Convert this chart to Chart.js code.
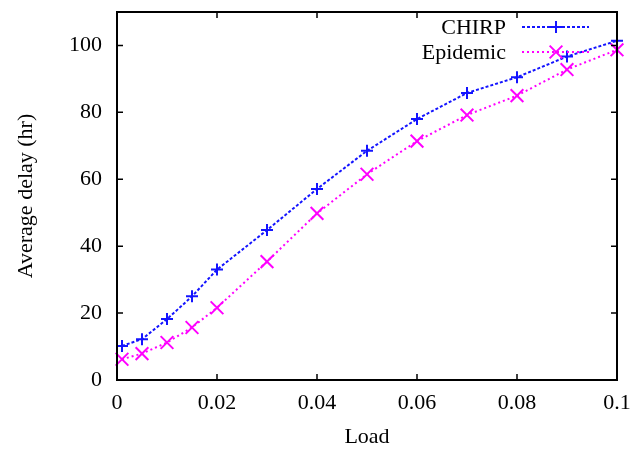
<!DOCTYPE html>
<html>
<head>
<meta charset="utf-8">
<script src="https://cdn.jsdelivr.net/npm/chart.js@4"></script>
<style>
  html, body { margin: 0; padding: 0; background: #fff; }
</style>
</head>
<body>
<canvas id="delay-chart" width="634" height="451"></canvas>
<script>
const LOAD = [0.001, 0.005, 0.01, 0.015, 0.02, 0.03, 0.04, 0.05, 0.06, 0.07, 0.08, 0.09, 0.1];
const CHIRP_DELAY = [10.2, 12.2, 18.2, 25, 33, 44.8, 57.1, 68.5, 78, 85.8, 90.5, 96.7, 101.4];
const EPIDEMIC_DELAY = [6.2, 7.9, 11.2, 15.7, 21.6, 35.4, 49.8, 61.5, 71.4, 79.2, 85, 92.8, 98.7];
const X_TICKS = [0, 0.02, 0.04, 0.06, 0.08, 0.1];
const Y_TICKS = [0, 20, 40, 60, 80, 100];

const FONT = "'Liberation Serif', 'Times New Roman', serif";
const BLUE = "#1414ff";
const MAGENTA = "#ff00ff";

const toPoints = (ys) => LOAD.map((x, i) => ({ x, y: ys[i] }));

// keep the plot box where the reference has it, whatever the label overhang
function noScalePadding(s) {
  s.paddingTop = 0;
  s.paddingBottom = 0;
  s.paddingLeft = 0;
  s.paddingRight = 0;
}

// gnuplot-style frame: full box with inward ticks on all four sides
const framePlugin = {
  id: "frame",
  afterDraw(chart) {
    const { ctx, chartArea: a, scales } = chart;
    ctx.save();
    ctx.strokeStyle = "#000";
    ctx.lineWidth = 2;
    ctx.strokeRect(a.left, a.top, a.right - a.left, a.bottom - a.top);
    ctx.lineWidth = 1.5;
    ctx.beginPath();
    for (const t of scales.x.ticks) {
      const px = scales.x.getPixelForValue(t.value);
      ctx.moveTo(px, a.bottom); ctx.lineTo(px, a.bottom - 6);
      ctx.moveTo(px, a.top); ctx.lineTo(px, a.top + 6);
    }
    for (const t of scales.y.ticks) {
      const py = scales.y.getPixelForValue(t.value);
      ctx.moveTo(a.left, py); ctx.lineTo(a.left + 6, py);
      ctx.moveTo(a.right, py); ctx.lineTo(a.right - 6, py);
    }
    ctx.stroke();
    ctx.restore();
  },
};

// key in the top right corner: label right-aligned, then a line sample with its marker
const keyPlugin = {
  id: "key",
  afterDraw(chart) {
    const { ctx } = chart;
    ctx.save();
    ctx.font = `22px ${FONT}`;
    ctx.textAlign = "right";
    ctx.textBaseline = "middle";
    chart.data.datasets.forEach((ds, i) => {
      const y = 27 + i * 25;
      ctx.fillStyle = "#000";
      ctx.fillText(ds.label, 506, y + 1);
      ctx.strokeStyle = ds.borderColor;
      ctx.fillStyle = ds.borderColor;
      ctx.lineWidth = ds.borderWidth;
      ctx.setLineDash(ds.borderDash);
      ctx.beginPath();
      ctx.moveTo(522, y); ctx.lineTo(589, y);
      ctx.stroke();
      ctx.setLineDash([]);
      ctx.lineWidth = ds.pointBorderWidth;
      Chart.helpers.drawPoint(ctx, {
        pointStyle: ds.pointStyle,
        radius: ds.pointRadius,
        rotation: 0,
        borderWidth: ds.pointBorderWidth,
      }, 556, y);
    });
    ctx.restore();
  },
};

new Chart(document.getElementById("delay-chart"), {
  type: "line",
  data: {
    datasets: [
      {
        label: "CHIRP",
        data: toPoints(CHIRP_DELAY),
        borderColor: BLUE,
        backgroundColor: BLUE,
        borderWidth: 2,
        borderDash: [3, 2],
        pointStyle: "cross",
        pointRadius: 6,
        pointBorderWidth: 2,
        clip: false,
      },
      {
        label: "Epidemic",
        data: toPoints(EPIDEMIC_DELAY),
        borderColor: MAGENTA,
        backgroundColor: MAGENTA,
        borderWidth: 2,
        borderDash: [2, 3],
        pointStyle: "crossRot",
        pointRadius: 9,
        pointBorderWidth: 2,
        clip: false,
      },
    ],
  },
  options: {
    responsive: false,
    animation: false,
    devicePixelRatio: 1,
    layout: { padding: { top: 12, right: 17, left: 0, bottom: 0 } },
    plugins: { legend: { display: false }, tooltip: { enabled: false } },
    scales: {
      x: {
        type: "linear",
        min: 0,
        max: 0.1,
        afterBuildTicks: (s) => { s.ticks = X_TICKS.map((value) => ({ value })); },
        afterFit: (s) => { s.height = 71; noScalePadding(s); },
        grid: { display: false, drawTicks: false },
        border: { display: false },
        ticks: {
          padding: 10,
          color: "#000",
          font: { family: FONT, size: 22 },
          callback: (v) => String(Number(v.toFixed(2))),
        },
        title: { display: true, text: "Load", color: "#000", font: { family: FONT, size: 22 }, padding: { top: 0, bottom: 1 } },
      },
      y: {
        type: "linear",
        min: 0,
        max: 110,
        afterBuildTicks: (s) => { s.ticks = Y_TICKS.map((value) => ({ value })); },
        afterFit: (s) => { s.width = 117; noScalePadding(s); },
        grid: { display: false, drawTicks: false },
        border: { display: false },
        ticks: { padding: 15, color: "#000", font: { family: FONT, size: 22 } },
        title: { display: true, text: "Average delay (hr)", color: "#000", font: { family: FONT, size: 22 }, padding: { top: 13, bottom: 0 } },
      },
    },
  },
  plugins: [framePlugin, keyPlugin],
});
</script>
</body>
</html>
